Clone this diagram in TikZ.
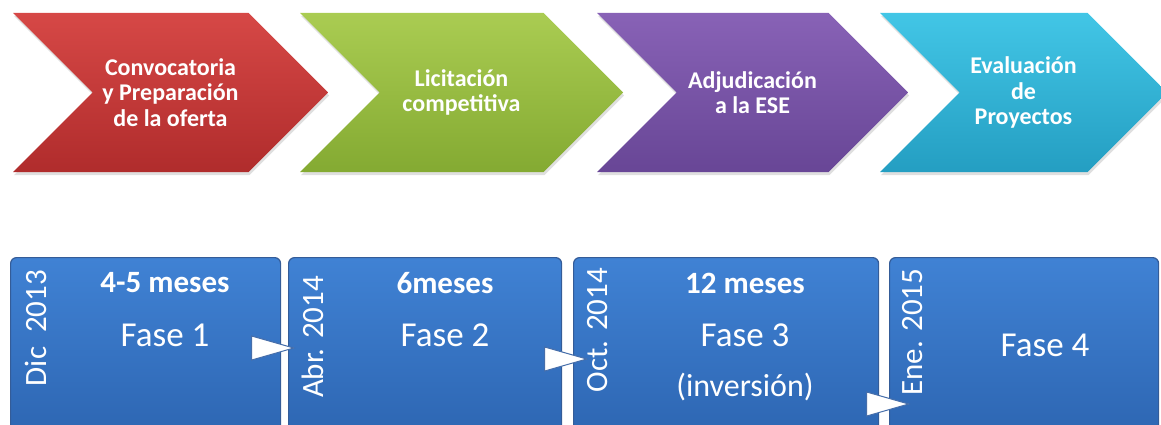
\documentclass[tikz,border=0pt]{standalone}
\usepackage{fontspec}
\setmainfont{Carlito}
\usetikzlibrary{shapes.symbols, shapes.geometric, positioning, shadows}
\definecolor{redtop}{RGB}{214, 72, 70}
\definecolor{redbottom}{RGB}{176, 44, 44}
\definecolor{greentop}{RGB}{170, 204, 82}
\definecolor{greenbottom}{RGB}{132, 170, 50}
\definecolor{purpletop}{RGB}{136, 98, 182}
\definecolor{purplebottom}{RGB}{104, 70, 150}
\definecolor{cyantop}{RGB}{66, 198, 230}
\definecolor{cyanbottom}{RGB}{36, 158, 194}
\definecolor{boxtop}{RGB}{64, 130, 212}
\definecolor{boxbottom}{RGB}{44, 100, 176}
\definecolor{boxline}{RGB}{52, 92, 152}
\definecolor{pointerline}{RGB}{70, 110, 170}

\begin{document}
\begin{tikzpicture}[
    x=1pt, y=-1pt,
    chevron/.style={signal, signal from=west, signal to=east, signal pointer angle=90, minimum width=315pt, minimum height=159pt, inner sep=0pt, align=center, text=white, font=\fontsize{24}{25.5}\selectfont\bfseries, drop shadow={opacity=0.25, shadow xshift=1pt, shadow yshift=-3pt}},
    phase/.style={rectangle, rounded corners=6pt, anchor=north west, minimum height=190pt, draw=boxline, line width=1.2pt, top color=boxtop, bottom color=boxbottom},
    duration/.style={text=white, font=\fontsize{31}{36}\selectfont\bfseries},
    faselabel/.style={text=white, font=\fontsize{35}{40}\selectfont},
    date/.style={text=white, rotate=90, font=\fontsize{31}{36}\selectfont},
    pointer/.style={isosceles triangle, isosceles triangle stretches, shape border rotate=0, minimum width=24pt, minimum height=42pt, inner sep=0pt, anchor=apex, fill=white, draw=pointerline, line width=1pt}
]
\useasboundingbox (0,0) rectangle (1161,425);
\clip (0,0) rectangle (1161,425);

% Process steps
\node (convocatoria) [chevron, top color=redtop, bottom color=redbottom] at (170.5,92.5) {Convocatoria\\y Preparación\\de la oferta};
\node (licitacion) [chevron, minimum width=323pt, top color=greentop, bottom color=greenbottom] at (461.5,92.5) {Licitación\\competitiva};
\node (adjudicacion) [chevron, minimum width=311pt, top color=purpletop, bottom color=purplebottom] at (752.5,92.5) {Adjudicación\\a la ESE};
\node (evaluacion) [chevron, minimum width=287pt, top color=cyantop, bottom color=cyanbottom] at (1023.5,92.5) {Evaluación\\de\\Proyectos};

% Phases
\node (box1) [phase, minimum width=270pt] at (10,257) {};
\node (box2) [phase, minimum width=273pt] at (288,257) {};
\node (box3) [phase, minimum width=305pt] at (573,257) {};
\node (box4) [phase, minimum width=269pt] at (889,257) {};

\node (dur1) [duration] at (165,283) {4-5 meses};
\node (dur2) [duration] at (445,283) {6meses};
\node (dur3) [duration] at (745,283) {12 meses};

\node (fase1) [faselabel] at (165,335) {Fase 1};
\node (fase2) [faselabel] at (445,335) {Fase 2};
\node (fase3) [faselabel] at (745,335) {Fase 3};
\node (inversion) [faselabel, font=\fontsize{32}{38}\selectfont] at (745,387) {(inversión)};
\node (fase4) [faselabel] at (1045,345) {Fase 4};

% Dates
\node (date1) [date] at (36,328) {Dic~~2013};
\node (date2) [date] at (313,337) {Abr. 2014};
\node (date3) [date] at (598,330) {Oct. 2014};
\node (date4) [date] at (913,332) {Ene. 2015};

% Pointers
\node (step1) [pointer] at (295,348) {};
\node (step2) [pointer] at (588,359) {};
\node (step3) [pointer] at (910,404) {};

\end{tikzpicture}
\end{document}
